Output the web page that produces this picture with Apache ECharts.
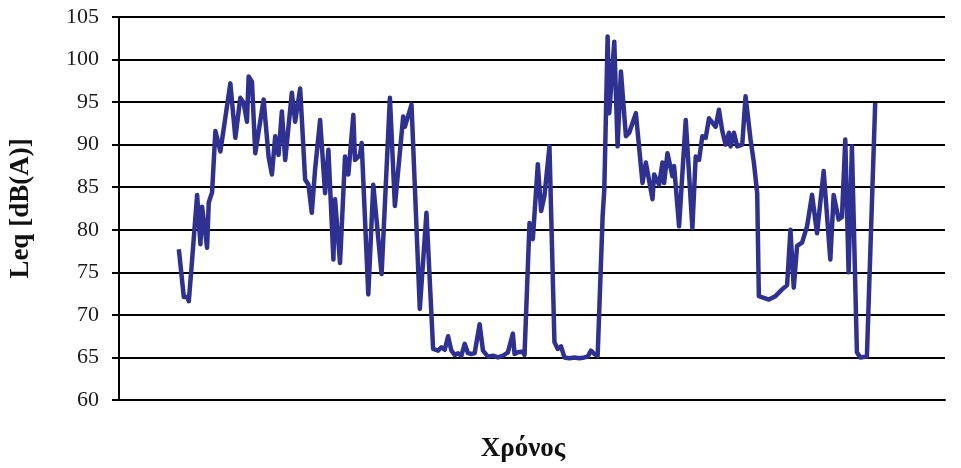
<!DOCTYPE html>
<html>
<head>
<meta charset="utf-8">
<script src="https://cdn.jsdelivr.net/npm/echarts@6/dist/echarts.min.js"></script>
<style>
  html, body { margin: 0; padding: 0; background: #fff; }
  #chart { width: 961px; height: 468px; }
</style>
</head>
<body>
<div id="chart"></div>
<script>
// Elapsed time of each reading (minutes from start of measurement)
const minutes = [
  1, 4, 6, 7, 9, 12, 14, 15, 18, 19, 21, 23, 24, 26, 32, 35, 38, 40, 42, 43,
  45, 47, 52, 55, 57, 59, 61, 63, 65, 69, 71, 74, 77, 79, 81, 83, 86, 89, 91, 94,
  95, 98, 101, 102, 103, 106, 107, 110, 111, 115, 118, 123, 128, 131, 136, 137, 141, 146, 150, 154,
  157, 159, 161, 163, 165, 167, 169, 171, 173, 175, 177, 179, 182, 184, 185, 187, 190, 193, 196, 199,
  202, 203, 205, 208, 209, 212, 214, 217, 219, 221, 224, 227, 229, 231, 233, 236, 239, 242, 245, 247,
  249, 251, 253, 254, 256, 257, 259, 260, 263, 265, 267, 270, 272, 276, 280, 282, 286, 287, 290, 292,
  293, 295, 298, 299, 302, 306, 310, 312, 314, 316, 318, 320, 322, 324, 326, 328, 330, 332, 333, 335,
  337, 340, 342, 345, 347, 349, 350, 353, 356, 360, 364, 367, 369, 371, 373, 376, 379, 382, 385, 389,
  393, 395, 398, 400, 402, 404, 406, 409, 411, 415, 420
];

// Equivalent sound level Leq, dB(A)
const leq = [
  77.7, 72.1, 72.1, 71.6, 76.5, 84.1, 78.3, 82.7, 77.9, 83.2, 84.4, 91.6, 90.8, 89.2, 97.2, 90.8, 95.5, 94.9, 92.7, 98.0,
  97.4, 89.0, 95.3, 88.6, 86.5, 91.0, 88.8, 93.9, 88.2, 96.1, 92.7, 96.6, 85.9, 85.3, 82.0, 87.1, 92.9, 84.3, 89.4, 76.5,
  83.6, 76.1, 88.6, 87.1, 86.5, 93.5, 88.2, 88.8, 90.2, 72.4, 85.3, 74.8, 95.5, 82.8, 93.3, 92.1, 94.7, 70.7, 82.0, 66.0,
  65.8, 66.2, 65.9, 67.5, 65.8, 65.3, 65.5, 65.2, 66.6, 65.5, 65.4, 65.5, 68.9, 65.8, 65.6, 65.1, 65.2, 65.0, 65.2, 65.6,
  67.8, 65.4, 65.6, 65.7, 65.3, 80.8, 78.9, 87.7, 82.2, 84.0, 89.8, 66.8, 66.0, 66.3, 65.0, 64.9, 65.0, 64.9, 65.0, 65.1,
  65.8, 65.4, 65.2, 65.1, 81.6, 84.7, 102.7, 93.7, 102.1, 89.8, 98.6, 91.0, 91.4, 93.7, 85.5, 87.9, 83.6, 86.5, 85.3, 87.9,
  85.5, 89.0, 86.3, 87.5, 80.4, 92.9, 80.2, 88.6, 88.2, 91.0, 90.8, 93.1, 92.6, 92.1, 94.1, 91.6, 90.0, 91.4, 89.8, 91.4,
  89.8, 90.0, 95.7, 90.6, 87.9, 84.3, 72.2, 72.0, 71.8, 72.2, 73.0, 73.5, 80.0, 73.2, 78.1, 78.5, 80.4, 84.1, 79.6, 86.9,
  76.5, 84.1, 81.2, 81.5, 90.6, 75.0, 89.8, 65.6, 65.0, 65.1, 94.9
];

// Level axis
const yMin = 60, yMax = 105, yStep = 5;
const yTitle = 'Leq [dB(A)]';
const xTitle = 'Χρόνος';

const points = minutes.map((m, i) => [m, leq[i]]);

const chart = echarts.init(document.getElementById('chart'), null, { renderer: 'canvas' });
chart.setOption({
  animation: false,
  backgroundColor: '#ffffff',
  grid: { left: 117, right: 16, top: 17, bottom: 67, containLabel: false },
  xAxis: {
    type: 'value',
    min: -35,
    max: 462,
    name: xTitle,
    nameLocation: 'middle',
    nameGap: 36,
    nameTextStyle: {
      fontFamily: 'Liberation Serif', fontWeight: 'bold', fontSize: 27, color: '#111',
      padding: [0, 18, 0, 0]
    },
    axisLine: { show: true, onZero: false, lineStyle: { color: '#000', width: 2 } },
    axisTick: { show: false },
    axisLabel: { show: false },
    splitLine: { show: false }
  },
  yAxis: {
    type: 'value',
    min: yMin,
    max: yMax,
    interval: yStep,
    name: yTitle,
    nameLocation: 'middle',
    nameGap: 84,
    nameRotate: 90,
    nameTextStyle: { fontFamily: 'Liberation Serif', fontWeight: 'bold', fontSize: 27, color: '#111' },
    axisLine: { show: true, onZero: false, lineStyle: { color: '#000', width: 2 } },
    axisTick: { show: true, length: 7, lineStyle: { color: '#000', width: 2 } },
    axisLabel: { margin: 20, fontFamily: 'Liberation Serif', fontSize: 22, color: '#1a1a1a' },
    splitLine: { show: true, lineStyle: { color: '#000', width: 2 } }
  },
  series: [{
    type: 'line',
    data: points,
    showSymbol: false,
    smooth: false,
    lineStyle: { color: '#2e3192', width: 4.5, join: 'round' },
    itemStyle: { color: '#2e3192' }
  }]
});
</script>
</body>
</html>
